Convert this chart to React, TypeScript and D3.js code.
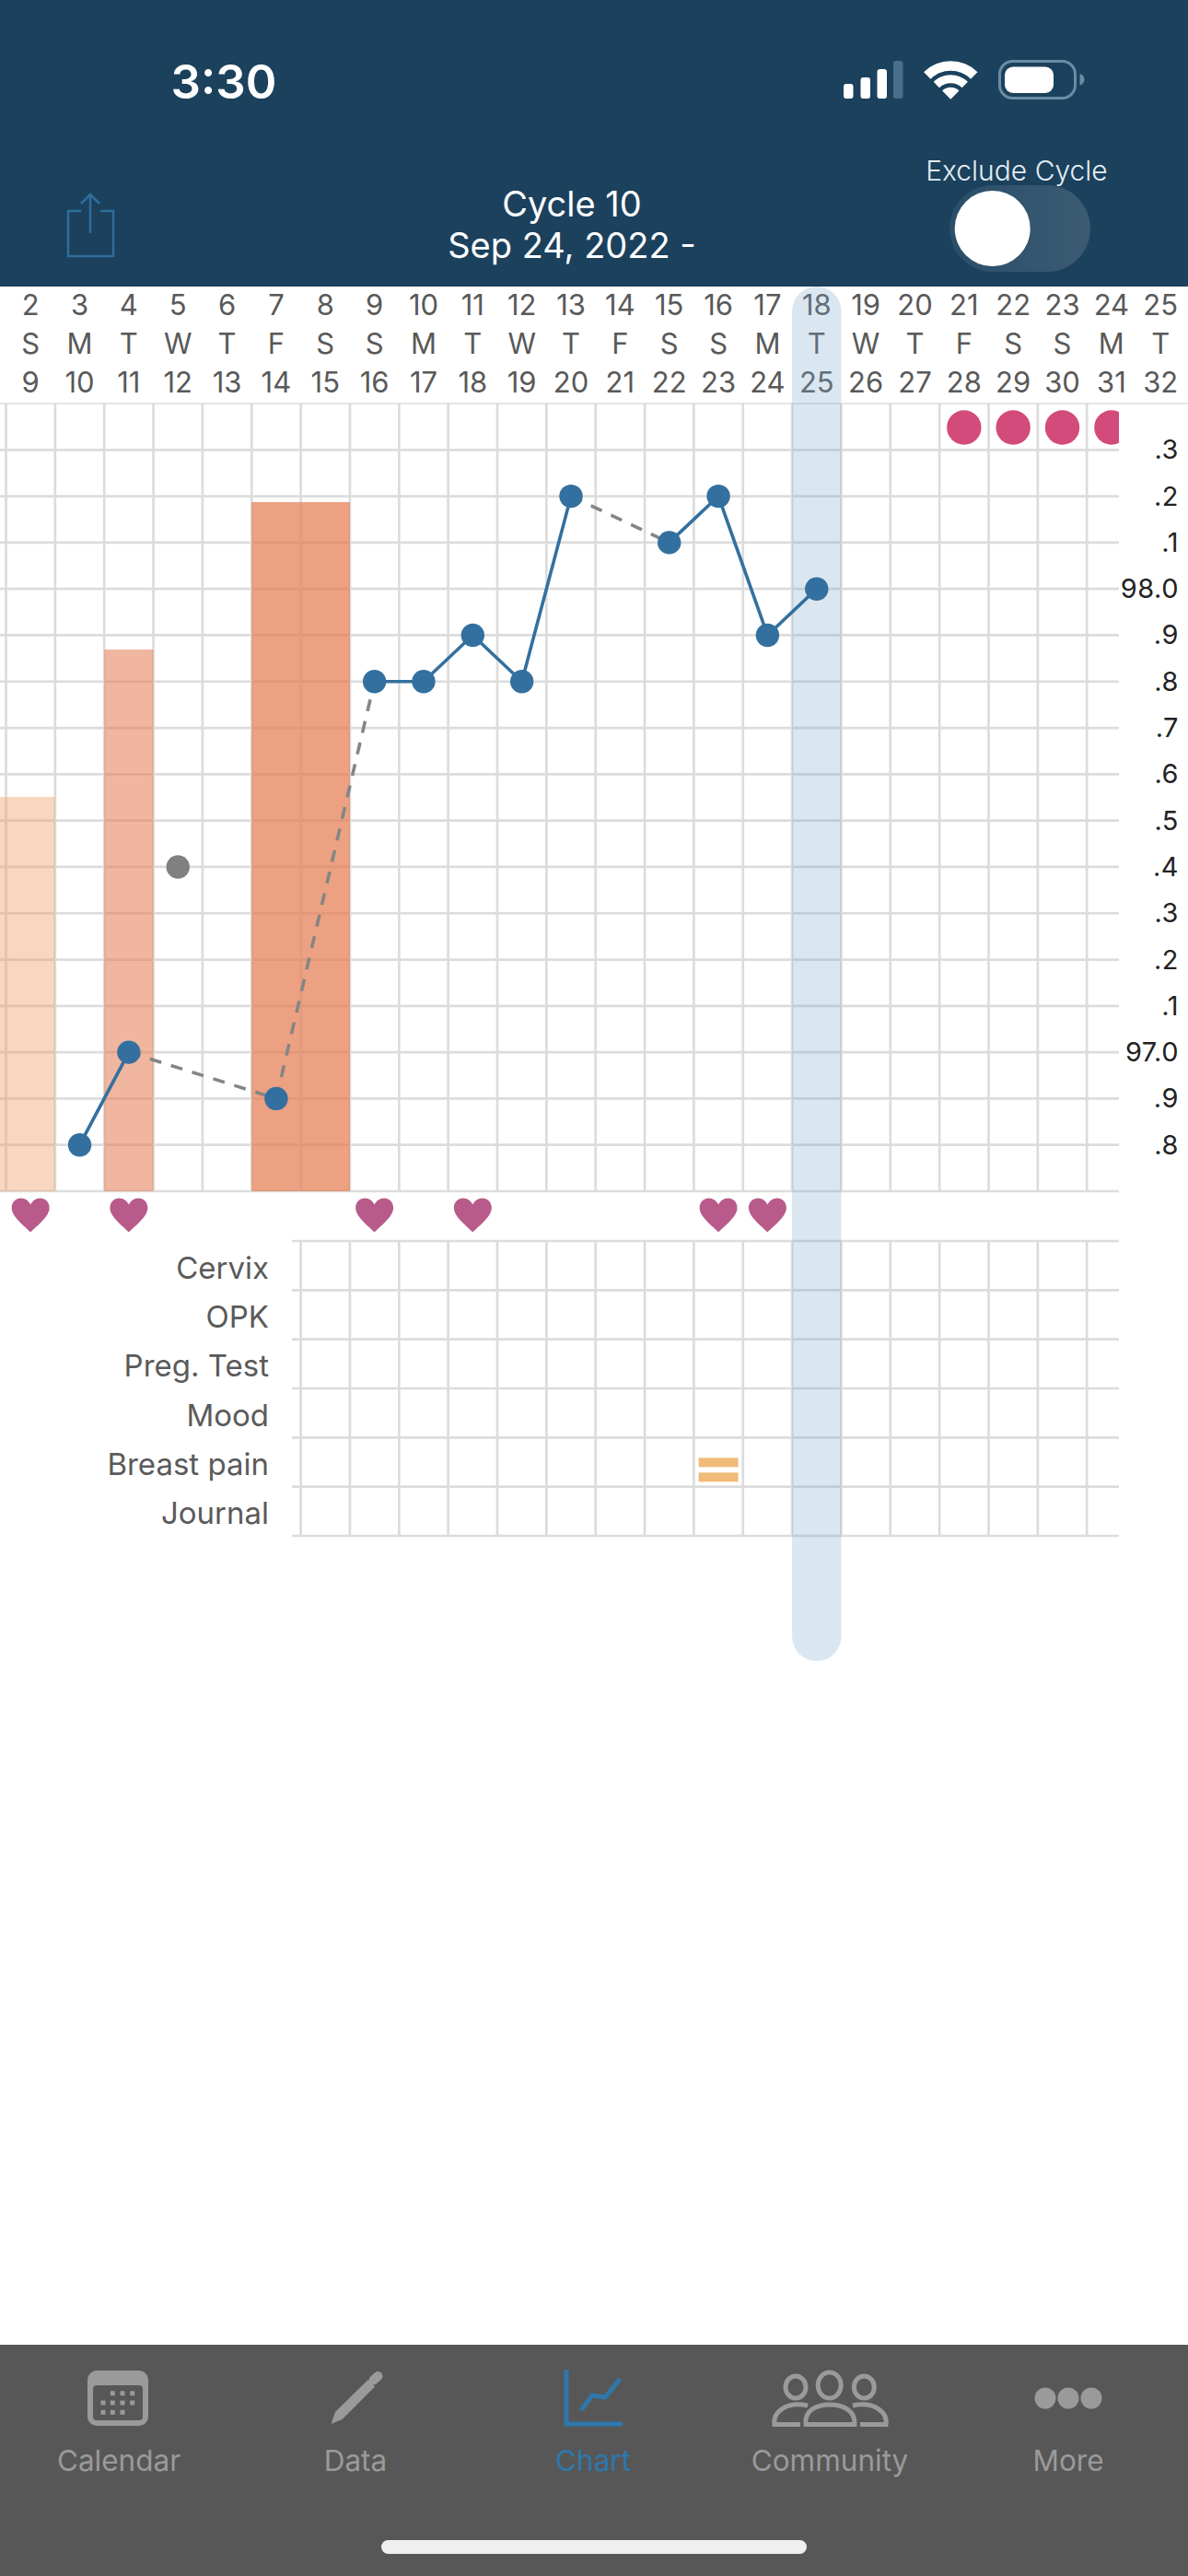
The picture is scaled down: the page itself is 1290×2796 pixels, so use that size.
import * as d3 from 'd3'

const cycleDays = d3.range(1, 26)
const dateDays = d3.range(2, 26)
const weekdays = ['S', 'M', 'T', 'W', 'T', 'F', 'S', 'S', 'M', 'T', 'W', 'T', 'F', 'S', 'S', 'M', 'T', 'W', 'T', 'F', 'S', 'S', 'M', 'T']
const dates = [9, 10, 11, 12, 13, 14, 15, 16, 17, 18, 19, 20, 21, 22, 23, 24, 25, 26, 27, 28, 29, 30, 31, 32]

const tempTicks = [98.3, 98.2, 98.1, 98.0, 97.9, 97.8, 97.7, 97.6, 97.5, 97.4, 97.3, 97.2, 97.1, 97.0, 96.9, 96.8]
const tempLabels = ['.3', '.2', '.1', '98.0', '.9', '.8', '.7', '.6', '.5', '.4', '.3', '.2', '.1', '97.0', '.9', '.8']

const tempDays = [3, 4, 7, 9, 10, 11, 12, 13, 15, 16, 17, 18]
const temps = [96.8, 97.0, 96.9, 97.8, 97.8, 97.9, 97.8, 98.2, 98.1, 98.2, 97.9, 98.0]
const excludedDays = [5]
const excludedTemps = [97.4]

const flowDays = [1, 2, 4, 7, 8]
const flowLevels = [1, 1, 2, 3, 3]
const flowColors = ['#eb9a5e', '#e47a50', '#e4794f']
const heartDays = [2, 4, 9, 11, 16, 17]
const predictedDays = [21, 22, 23, 24]
const todayDay = 18

const rowLabels = ['Cervix', 'OPK', 'Preg. Test', 'Mood', 'Breast pain', 'Journal']
const painDays = [16]

const FONT = 'Inter, "Noto Sans", sans-serif'
const HEADER = '#1b415d'
const GRID = '#dcdcdc'
const BLUE = '#33709f'
const TAB_TEXT = '#9a9a9a'

const x = d3.scaleBand<number>().domain(cycleDays).range([6.5 - 53.35, 6.5 + 24 * 53.35])
const y = d3.scaleLinear().domain([96.7, 98.4]).range([1293, 438])
const flowY = d3.scaleLinear().domain([1, 3]).range([865, 545])
const flowOpacity = d3.scaleLinear().domain([1, 2, 3]).range([0.4, 0.55, 0.7])
const flowFill = d3.scaleOrdinal<number, string>().domain([1, 2, 3]).range(flowColors)
const rowY = d3.scaleBand<string>().domain(rowLabels).range([1347, 1667])

const cx = (d: number) => (x(d) ?? 0) + x.bandwidth() / 2
const gridLeft = (d: number) => x(d) ?? 0
const CHART_RIGHT = 1215

const points = tempDays.map((day, i) => ({ day, temp: temps[i] }))
const segment = d3
  .line<{ day: number; temp: number }>()
  .x((d) => cx(d.day))
  .y((d) => y(d.temp))

// consecutive days get a solid line, a missed day gets a dashed one
const links = d3.pairs(points).map(([a, b]) => ({
  d: segment([a, b]) ?? '',
  dashed: b.day - a.day > 1,
}))

const heartPath =
  'M0,18.5 C-6,12 -20.5,2 -20.5,-8 C-20.5,-14.5 -15.5,-18.5 -10.5,-18.5 C-5.5,-18.5 -2,-15.5 0,-11.5 C2,-15.5 5.5,-18.5 10.5,-18.5 C15.5,-18.5 20.5,-14.5 20.5,-8 C20.5,2 6,12 0,18.5 Z'

function StatusBar() {
  const wifi = d3.arc<{ inner: number; outer: number }>()
    .innerRadius((d) => d.inner)
    .outerRadius((d) => d.outer)
    .startAngle(-0.78)
    .endAngle(0.78)
  const rings = [
    { inner: 31, outer: 41.5 },
    { inner: 17.5, outer: 26.5 },
    { inner: 0, outer: 13 },
  ]
  const signal = [
    [916, 91, 10.5],
    [934.5, 84, 10.5],
    [952.5, 75, 10.5],
  ]
  return (
    <g>
      <text x={243} y={107} textAnchor="middle" fontSize={51} fontWeight={600} fill="#fff" fontFamily={FONT}>
        3:30
      </text>
      {signal.map(([sx, sy, w]) => (
        <rect key={sx} x={sx} y={sy} width={w} height={107 - sy} rx={3} fill="#fff" />
      ))}
      <rect x={970} y={66} width={10.5} height={41} rx={3} fill="#4a6f8a" />
      <g transform="translate(1032.3,107.7)">
        {rings.map((r) => (
          <path key={r.outer} d={wifi(r) ?? ''} fill="#fff" />
        ))}
      </g>
      <rect x={1085.5} y={66.5} width={82} height={40} rx={14} fill="none" stroke="#6b8ca5" strokeWidth={3} />
      <rect x={1091} y={72.5} width={53} height={28.5} rx={9} fill="#fff" />
      <path d="M1172.5,80 C1176,81 1177.5,83.5 1177.5,86.3 C1177.5,89 1176,91.6 1172.5,92.7 Z" fill="#6b8ca5" />
    </g>
  )
}

function Header() {
  return (
    <g fontFamily={FONT}>
      <rect x={0} y={0} width={1290} height={311} fill={HEADER} />
      <StatusBar />
      <path
        d="M88,229 H74 V278 H123 V229 H109 M98,253 V211 M88,221 L98,211 L108,221"
        fill="none"
        stroke="#2f6d9c"
        strokeWidth={2.5}
      />
      <text x={621} y={235} textAnchor="middle" fontSize={38} fill="#fff">
        Cycle 10
      </text>
      <text x={621} y={280} textAnchor="middle" fontSize={38} fill="#fff">
        Sep 24, 2022 -
      </text>
      <text x={1104} y={196} textAnchor="middle" fontSize={30} fontWeight={300} fill="#e4edf3">
        Exclude Cycle
      </text>
      <defs>
        <linearGradient id="track" x1="0" x2="1" y1="0" y2="0">
          <stop offset="0" stopColor="#2a4e69" />
          <stop offset="1" stopColor="#3c5b73" />
        </linearGradient>
      </defs>
      <rect x={1031} y={201} width={153} height={94} rx={47} fill="url(#track)" />
      <circle cx={1077.7} cy={248} r={41} fill="#fff" />
    </g>
  )
}

function DateRows() {
  const rows: [(string | number)[], number][] = [
    [dateDays, 342],
    [weekdays, 384],
    [dates, 426],
  ]
  return (
    <g fontFamily={FONT} fontSize={31} fill="#595959" textAnchor="middle">
      {rows.map(([values, rowBase]) =>
        values.map((v, i) => (
          <text key={`${rowBase}-${i}`} x={cx(dateDays[i])} y={rowBase}>
            {v}
          </text>
        )),
      )}
    </g>
  )
}

function TempGrid() {
  return (
    <g stroke={GRID} strokeWidth={2.7}>
      <line x1={0} x2={1290} y1={y(98.4)} y2={y(98.4)} strokeWidth={1.5} />
      <line x1={0} x2={CHART_RIGHT} y1={y(96.7)} y2={y(96.7)} />
      {tempTicks.map((t) => (
        <line key={t} x1={0} x2={CHART_RIGHT} y1={y(t)} y2={y(t)} />
      ))}
      {d3.range(2, 25).map((d) => (
        <line key={d} x1={gridLeft(d)} x2={gridLeft(d)} y1={y(98.4)} y2={y(96.7)} />
      ))}
    </g>
  )
}

function RowGrid() {
  const edges = [...rowLabels.map((r) => rowY(r) ?? 0), rowY.range()[1]]
  return (
    <g>
      <g stroke={GRID} strokeWidth={2.7}>
        {edges.map((e) => (
          <line key={e} x1={317} x2={CHART_RIGHT} y1={e} y2={e} />
        ))}
        {d3.range(8, 25).map((d) => (
          <line key={d} x1={gridLeft(d)} x2={gridLeft(d)} y1={edges[0]} y2={edges[edges.length - 1]} />
        ))}
      </g>
      <g fontFamily={FONT} fontSize={33} fill="#5a5a5a" textAnchor="end">
        {rowLabels.map((r) => (
          <text key={r} x={292} y={(rowY(r) ?? 0) + rowY.bandwidth() / 2 + 14}>
            {r}
          </text>
        ))}
      </g>
      {painDays.map((d) => (
        <g key={d} fill="#f0bb78">
          <rect x={cx(d) - 21.5} y={(rowY('Breast pain') ?? 0) + 22} width={43} height={10} />
          <rect x={cx(d) - 21.5} y={(rowY('Breast pain') ?? 0) + 38} width={43} height={10} />
        </g>
      ))}
    </g>
  )
}

function TabBar() {
  const labels = [
    ['Calendar', 129, TAB_TEXT],
    ['Data', 386, TAB_TEXT],
    ['Chart', 644, '#2e78ad'],
    ['Community', 901, TAB_TEXT],
    ['More', 1160, TAB_TEXT],
  ] as const
  const calDots = [
    [122.3, 2597.7], [133, 2597.7], [143.7, 2597.7],
    [112, 2608], [122.3, 2608], [133, 2608], [143.7, 2608],
    [112, 2618.3], [122.3, 2618.3], [133, 2618.3],
  ]
  return (
    <g fontFamily={FONT}>
      <rect x={0} y={2545} width={1290} height={251} fill="#575757" />
      {labels.map(([t, lx, c]) => (
        <text key={t} x={lx} y={2681.5} textAnchor="middle" fontSize={31.5} fill={c}>
          {t}
        </text>
      ))}
      {/* calendar */}
      <rect x={95} y={2573} width={66} height={60} rx={10} fill={TAB_TEXT} />
      <rect x={101} y={2589} width={54} height={38} rx={4} fill="#575757" />
      {calDots.map(([dx, dy]) => (
        <rect key={`${dx}-${dy}`} x={dx - 2.5} y={dy - 2.5} width={5} height={5} fill={TAB_TEXT} />
      ))}
      {/* pencil */}
      <path d="M359.5,2631 L364,2618 L399.6,2583 L407,2590.4 L371.6,2626 Z" fill={TAB_TEXT} />
      <path d="M405.5,2583.5 L410.5,2579" fill="none" stroke={TAB_TEXT} strokeWidth={10} strokeLinecap="round" />
      {/* chart */}
      <path d="M615,2572 V2631 H676" fill="none" stroke="#2e78ad" strokeWidth={5} />
      <path d="M631,2616 L643,2600 L657,2602 L673.5,2582" fill="none" stroke="#2e78ad" strokeWidth={5} />
      {/* community */}
      <g fill="none" stroke={TAB_TEXT} strokeWidth={5}>
        <ellipse cx={864} cy={2591} rx={11} ry={12} />
        <ellipse cx={900.7} cy={2589} rx={12.5} ry={14} />
        <ellipse cx={938.3} cy={2591} rx={11} ry={12} />
        <path d="M875,2631.5 H885 M917,2631.5 H927 M877,2611 C854,2606 839,2618 841,2631.5 H869" />
        <path d="M926,2611 C949,2606 964,2618 962,2631.5 H934" />
        <path d="M875,2631.5 C873,2617 886,2610 901,2610 C916,2610 929,2617 928,2631.5 Z" />
      </g>
      {/* more */}
      {[1135, 1160, 1185].map((c) => (
        <circle key={c} cx={c} cy={2603} r={11.5} fill={TAB_TEXT} />
      ))}
      <rect x={414} y={2757} width={462} height={15} rx={7.5} fill="#efefef" />
    </g>
  )
}

export default function App() {
  return (
    <svg
      width={1290}
      height={2796}
      viewBox="0 0 1290 2796"
      style={{ position: 'absolute', left: 0, top: 0, display: 'block', background: '#fff' }}
    >
      <defs>
        <clipPath id="plot">
          <rect x={0} y={311} width={CHART_RIGHT} height={1000} />
        </clipPath>
      </defs>

      <Header />
      <DateRows />
      <TempGrid />

      {flowDays.map((d, i) => (
        <rect
          key={d}
          x={gridLeft(d)}
          y={flowY(flowLevels[i])}
          width={x.bandwidth()}
          height={y(96.7) - flowY(flowLevels[i])}
          fill={flowFill(flowLevels[i])}
          fillOpacity={flowOpacity(flowLevels[i])}
        />
      ))}

      <RowGrid />

      <rect
        x={gridLeft(todayDay)}
        y={311}
        width={x.bandwidth()}
        height={1492}
        rx={26.7}
        fill="#7aa8c9"
        fillOpacity={0.27}
      />

      <g clipPath="url(#plot)">
        {predictedDays.map((d) => (
          <circle key={d} cx={cx(d)} cy={464} r={18.7} fill="#d24b7a" />
        ))}
      </g>

      {heartDays.map((d) => (
        <path key={d} d={heartPath} transform={`translate(${cx(d)},1319)`} fill="#b95b8a" />
      ))}

      <g fill="none" strokeWidth={3.6}>
        {links.map((l) => (
          <path
            key={l.d}
            d={l.d}
            stroke={l.dashed ? '#858585' : BLUE}
            strokeDasharray={l.dashed ? '13 11' : undefined}
          />
        ))}
      </g>
      {points.map((p) => (
        <circle key={p.day} cx={cx(p.day)} cy={y(p.temp)} r={12.7} fill={BLUE} />
      ))}
      {excludedDays.map((d, i) => (
        <circle key={d} cx={cx(d)} cy={y(excludedTemps[i])} r={12.7} fill="#808080" />
      ))}

      <g fontFamily={FONT} fontSize={29} letterSpacing={0.5} fill="#222" textAnchor="end">
        {tempTicks.map((t, i) => (
          <text key={t} x={1280} y={y(t) + 10}>
            {tempLabels[i]}
          </text>
        ))}
      </g>

      <TabBar />
    </svg>
  )
}
